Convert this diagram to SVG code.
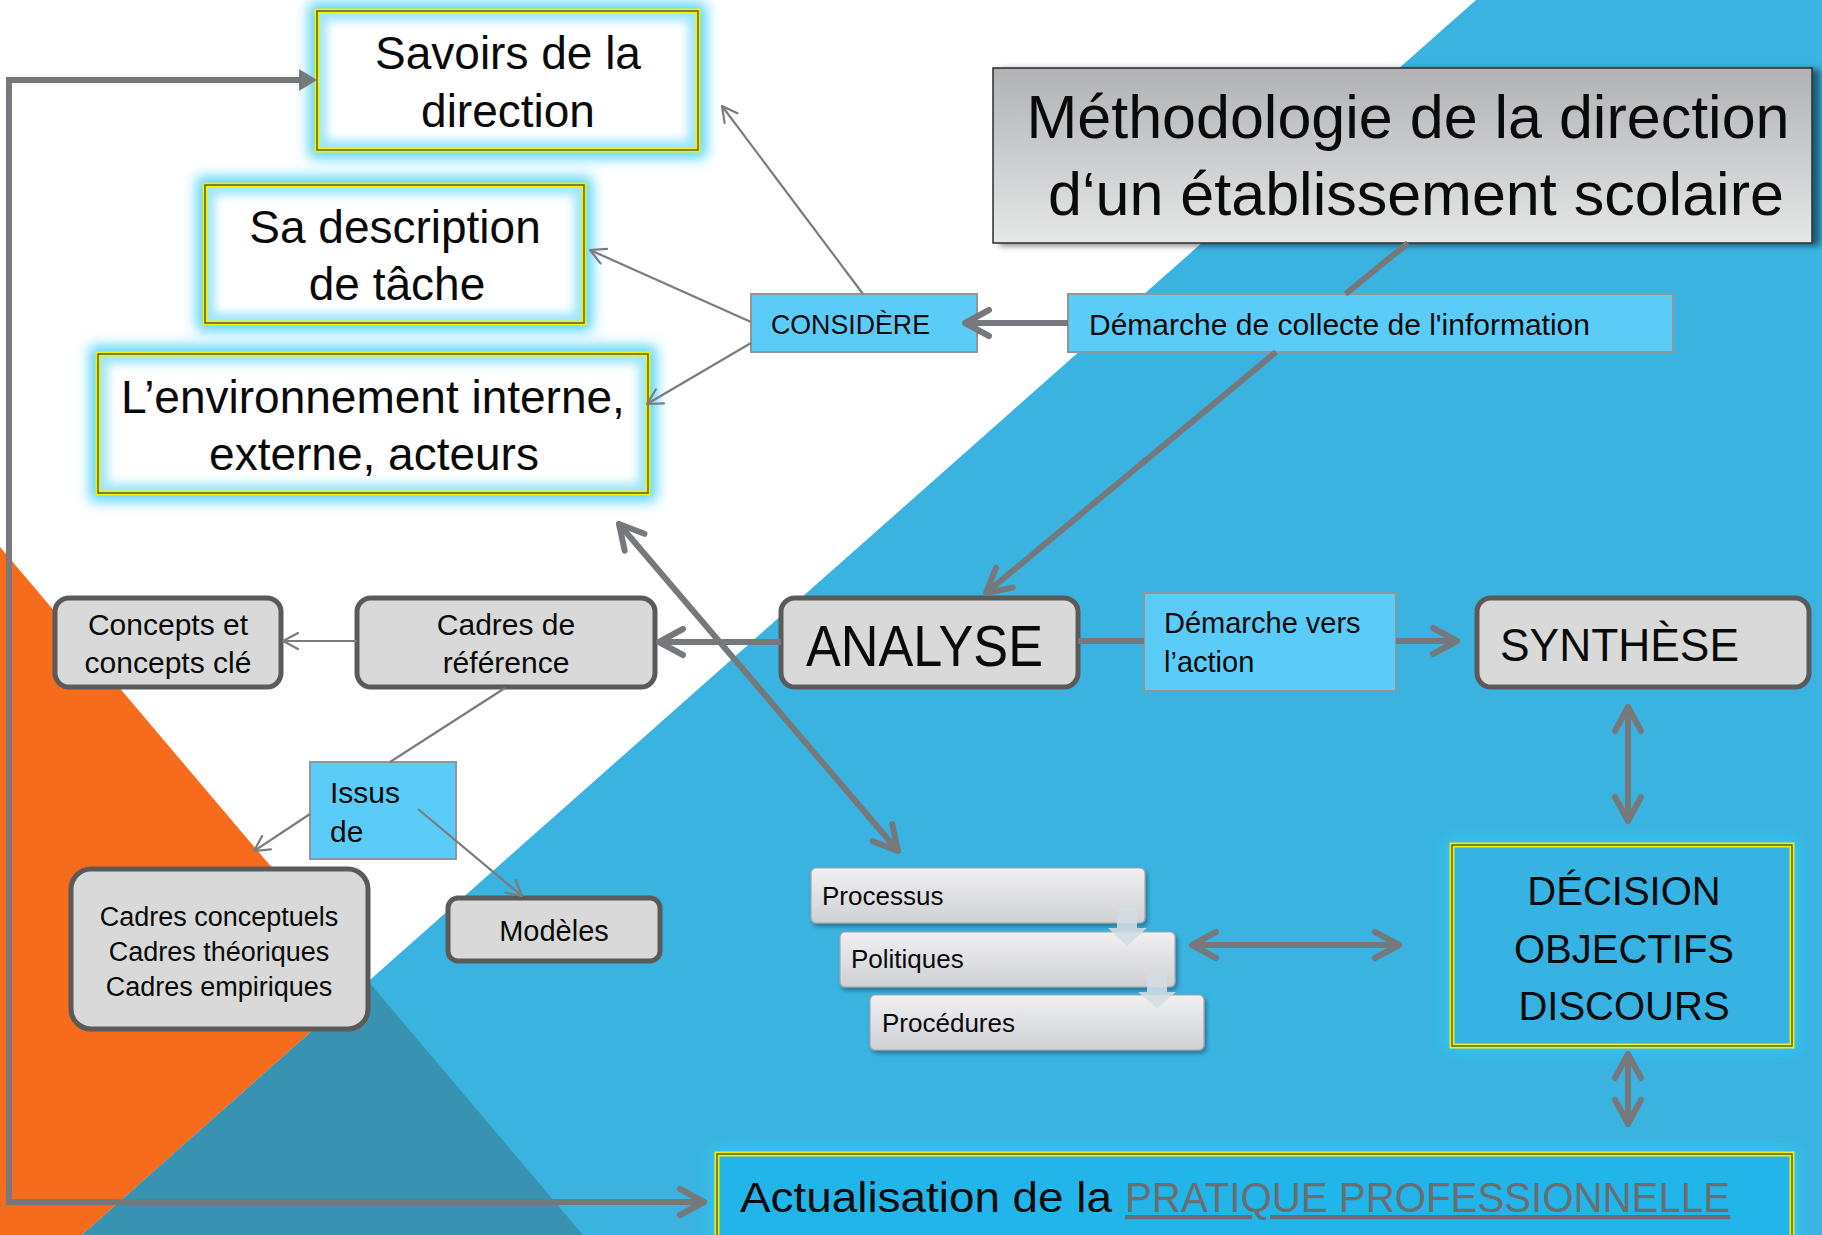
<svg xmlns="http://www.w3.org/2000/svg" width="1822" height="1235" viewBox="0 0 1822 1235">
<style>
text{font-family:'Liberation Sans',Arial,sans-serif;fill:#0a0a0a}
.c{text-anchor:middle}
.glowbg{fill:#4fd2fb;filter:url(#glow)}
.edgeY{fill:none;stroke:#f2f200;stroke-width:5}
.edgeD{fill:none;stroke:#5d5d3e;stroke-width:1.5}
.gbox{fill:#d9d9d9;stroke:#5a5a5a;stroke-width:5}
.lbl{fill:#5bccf7;stroke:#8e979c;stroke-width:2}
.step{fill:url(#stepGrad);stroke:#a3a6aa;stroke-width:1.2;filter:url(#shadow)}
.thick{fill:none;stroke:#76787b;stroke-width:6}
.thin{fill:none;stroke:#7a7c7f;stroke-width:2.2}
.down{fill:#d3dde3;opacity:0.88}
</style>
<defs>
<filter id="glow" x="-20%" y="-30%" width="140%" height="160%"><feGaussianBlur stdDeviation="7"/></filter>
<filter id="soft" x="-20%" y="-30%" width="140%" height="160%"><feGaussianBlur stdDeviation="5"/></filter>
<filter id="shadow" x="-10%" y="-20%" width="120%" height="150%"><feDropShadow dx="2" dy="3" stdDeviation="2" flood-color="#000" flood-opacity="0.35"/></filter>
<filter id="tshadow" x="-5%" y="-10%" width="115%" height="130%"><feDropShadow dx="7" dy="2" stdDeviation="3" flood-color="#000" flood-opacity="0.5"/></filter>
<linearGradient id="titleGrad" x1="0" y1="0" x2="0" y2="1"><stop offset="0" stop-color="#b1b2b4"/><stop offset="1" stop-color="#e6e7e7"/></linearGradient>
<linearGradient id="stepGrad" x1="0" y1="0" x2="0" y2="1"><stop offset="0" stop-color="#f0f0f3"/><stop offset="1" stop-color="#d0d1d5"/></linearGradient>
<marker id="chev" markerUnits="userSpaceOnUse" viewBox="-32 -20 38 40" refX="0" refY="0" markerWidth="38" markerHeight="40" orient="auto-start-reverse"><path d="M-24,-13 L0,0 L-24,13" fill="none" stroke="#76787b" stroke-width="6" stroke-linecap="round" stroke-linejoin="round"/></marker>
<marker id="tri" markerUnits="userSpaceOnUse" viewBox="-10 -14 30 28" refX="0" refY="0" markerWidth="30" markerHeight="28" orient="auto-start-reverse"><path d="M-4,-11 L14,0 L-4,11 Z" fill="#76787b"/></marker>
<marker id="thinchev" markerUnits="userSpaceOnUse" viewBox="-20 -12 24 24" refX="0" refY="0" markerWidth="24" markerHeight="24" orient="auto-start-reverse"><path d="M-15,-8 L0,0 L-15,8" fill="none" stroke="#7a7c7f" stroke-width="2.2" stroke-linecap="round" stroke-linejoin="round"/></marker>
</defs>

<g id="background">
<rect width="1822" height="1235" fill="#ffffff"/>
<polygon points="0,547 368,981 82,1235 0,1235" fill="#f76b1d"/>
<polygon points="1476,0 1822,0 1822,1235 82,1235" fill="#3ab3e0"/>
<polygon points="368,981 82,1235 583,1235" fill="#3893b2"/>
</g>

<g id="nodes">
<g id="savoirs">
<rect class="glowbg" x="309" y="3" width="397" height="155"/>
<rect x="317" y="11" width="381" height="139" fill="#9fe6fc"/>
<rect x="327" y="21" width="361" height="119" fill="#ffffff" filter="url(#soft)"/>
<rect class="edgeY" x="317" y="11" width="381" height="139"/>
<rect class="edgeD" x="317" y="11" width="381" height="139"/>
<text class="c" x="508" y="69" font-size="46">Savoirs de la</text>
<text class="c" x="508" y="127" font-size="46">direction</text>
</g>
<g id="description">
<rect class="glowbg" x="197" y="177" width="395" height="154"/>
<rect x="205" y="185" width="379" height="138" fill="#9fe6fc"/>
<rect x="215" y="195" width="359" height="118" fill="#ffffff" filter="url(#soft)"/>
<rect class="edgeY" x="205" y="185" width="379" height="138"/>
<rect class="edgeD" x="205" y="185" width="379" height="138"/>
<text class="c" x="395" y="243" font-size="46">Sa description</text>
<text class="c" x="397" y="300" font-size="46">de tâche</text>
</g>
<g id="environnement">
<rect class="glowbg" x="90" y="346" width="566" height="155"/>
<rect x="98" y="354" width="550" height="139" fill="#9fe6fc"/>
<rect x="108" y="364" width="530" height="119" fill="#ffffff" filter="url(#soft)"/>
<rect class="edgeY" x="98" y="354" width="550" height="139"/>
<rect class="edgeD" x="98" y="354" width="550" height="139"/>
<text class="c" x="373" y="413" font-size="46">L’environnement interne,</text>
<text class="c" x="374" y="470" font-size="46">externe, acteurs</text>
</g>
<g id="titre">
<rect x="993" y="68" width="819" height="175" fill="url(#titleGrad)" stroke="#2b2b2b" stroke-width="1.5" filter="url(#tshadow)"/>
<text class="c" x="1408" y="138" font-size="61">Méthodologie de la direction</text>
<text class="c" x="1416" y="215" font-size="61">d‘un établissement scolaire</text>
</g>
<g id="considere">
<rect class="lbl" x="751" y="294" width="226" height="58"/>
<text x="771" y="334" font-size="28" textLength="159" lengthAdjust="spacingAndGlyphs">CONSIDÈRE</text>
</g>
<g id="collecte">
<rect class="lbl" x="1068" y="294" width="605" height="58"/>
<text x="1089" y="335" font-size="30">Démarche de collecte de l'information</text>
</g>
<g id="analyse">
<rect class="gbox" x="781" y="598" width="297" height="89" rx="14"/>
<text x="806" y="666" font-size="57" textLength="237" lengthAdjust="spacingAndGlyphs">ANALYSE</text>
</g>
<g id="vers-action">
<rect class="lbl" x="1144" y="593" width="252" height="98"/>
<text x="1164" y="633" font-size="29">Démarche vers</text>
<text x="1164" y="672" font-size="29">l’action</text>
</g>
<g id="synthese">
<rect class="gbox" x="1477" y="598" width="332" height="89" rx="14"/>
<text x="1500" y="661" font-size="47" textLength="239" lengthAdjust="spacingAndGlyphs">SYNTHÈSE</text>
</g>
<g id="cadres-reference">
<rect class="gbox" x="357" y="598" width="298" height="89" rx="14"/>
<text class="c" x="506" y="635" font-size="30">Cadres de</text>
<text class="c" x="506" y="673" font-size="30">référence</text>
</g>
<g id="concepts">
<rect class="gbox" x="55" y="598" width="226" height="89" rx="14"/>
<text class="c" x="168" y="635" font-size="30">Concepts et</text>
<text class="c" x="168" y="673" font-size="30">concepts clé</text>
</g>
<g id="issus">
<rect class="lbl" x="310" y="762" width="146" height="97"/>
<text x="330" y="803" font-size="30">Issus</text>
<text x="330" y="842" font-size="30">de</text>
</g>
<g id="cadres-types">
<rect class="gbox" x="71" y="869" width="297" height="160" rx="20"/>
<text class="c" x="219" y="926" font-size="27">Cadres conceptuels</text>
<text class="c" x="219" y="961" font-size="27">Cadres théoriques</text>
<text class="c" x="219" y="996" font-size="27">Cadres empiriques</text>
</g>
<g id="modeles">
<rect class="gbox" x="448" y="898" width="212" height="63" rx="10"/>
<text class="c" x="554" y="941" font-size="29">Modèles</text>
</g>
<g id="processus">
<rect class="step" x="811" y="868" width="334" height="55" rx="5"/>
<text x="822" y="905" font-size="26">Processus</text>
</g>
<g id="politiques">
<rect class="step" x="840" y="932" width="335" height="55" rx="5"/>
<text x="851" y="968" font-size="26">Politiques</text>
</g>
<g id="procedures">
<rect class="step" x="870" y="995" width="334" height="55" rx="5"/>
<text x="882" y="1032" font-size="26">Procédures</text>
</g>
<g id="step-arrows">
<polygon class="down" points="1117,908 1137,908 1137,928 1147,928 1127,946 1108,928 1117,928"/>
<polygon class="down" points="1147,973 1167,973 1167,992 1176,992 1157,1008 1138,992 1147,992"/>
</g>
<g id="decision">
<rect x="1446" y="839" width="352" height="213" fill="#30c6f6" filter="url(#glow)"/>
<rect x="1452" y="845" width="340" height="201" fill="#36b2e3"/>
<rect class="edgeY" x="1452" y="845" width="340" height="201"/>
<rect class="edgeD" x="1452" y="845" width="340" height="201"/>
<text class="c" x="1624" y="905" font-size="40">DÉCISION</text>
<text class="c" x="1624" y="963" font-size="40">OBJECTIFS</text>
<text class="c" x="1624" y="1020" font-size="40">DISCOURS</text>
</g>
<g id="actualisation">
<rect x="711" y="1148" width="1087" height="100" fill="#30c6f6" filter="url(#glow)"/>
<rect x="717" y="1154" width="1075" height="90" fill="#22b5ea"/>
<rect class="edgeY" x="717" y="1154" width="1075" height="90"/>
<rect class="edgeD" x="717" y="1154" width="1075" height="90"/>
<text x="740" y="1212" font-size="43" textLength="372" lengthAdjust="spacingAndGlyphs">Actualisation de la</text>
<text x="1125" y="1212" font-size="42" textLength="605" lengthAdjust="spacingAndGlyphs" style="fill:#6b6d70;text-decoration:underline">PRATIQUE PROFESSIONNELLE</text>
</g>
</g>

<g id="connectors">
<path class="thick" d="M303,80 H9 V1202 H704" marker-start="url(#tri)" marker-end="url(#chev)"/>
<path class="thick" d="M1408,243 L1345.5,294"/>
<path class="thick" d="M1276,352 L986,593" marker-end="url(#chev)"/>
<path class="thick" d="M1068,323 H965" marker-end="url(#chev)"/>
<path class="thick" d="M781,642 H659" marker-end="url(#chev)"/>
<path class="thick" d="M1078,641 H1144"/>
<path class="thick" d="M1396,641 H1457" marker-end="url(#chev)"/>
<path class="thick" d="M1628,707 V821" marker-start="url(#chev)" marker-end="url(#chev)"/>
<path class="thick" d="M1628,1054 V1124" marker-start="url(#chev)" marker-end="url(#chev)"/>
<path class="thick" d="M1192,945 H1399" marker-start="url(#chev)" marker-end="url(#chev)"/>
<path class="thick" d="M619,524 L898,851" marker-start="url(#chev)" marker-end="url(#chev)"/>
<path class="thin" d="M863,294 L722,106" marker-end="url(#thinchev)"/>
<path class="thin" d="M751,322 L590,250" marker-end="url(#thinchev)"/>
<path class="thin" d="M751,343 L647,404" marker-end="url(#thinchev)"/>
<path class="thin" d="M357,641 H283" marker-end="url(#thinchev)"/>
<path class="thin" d="M505,688 L390,762"/>
<path class="thin" d="M310,814 L254,851" marker-end="url(#thinchev)"/>
<path class="thin" d="M418,809 L522,896" marker-end="url(#thinchev)"/>
</g>
</svg>
